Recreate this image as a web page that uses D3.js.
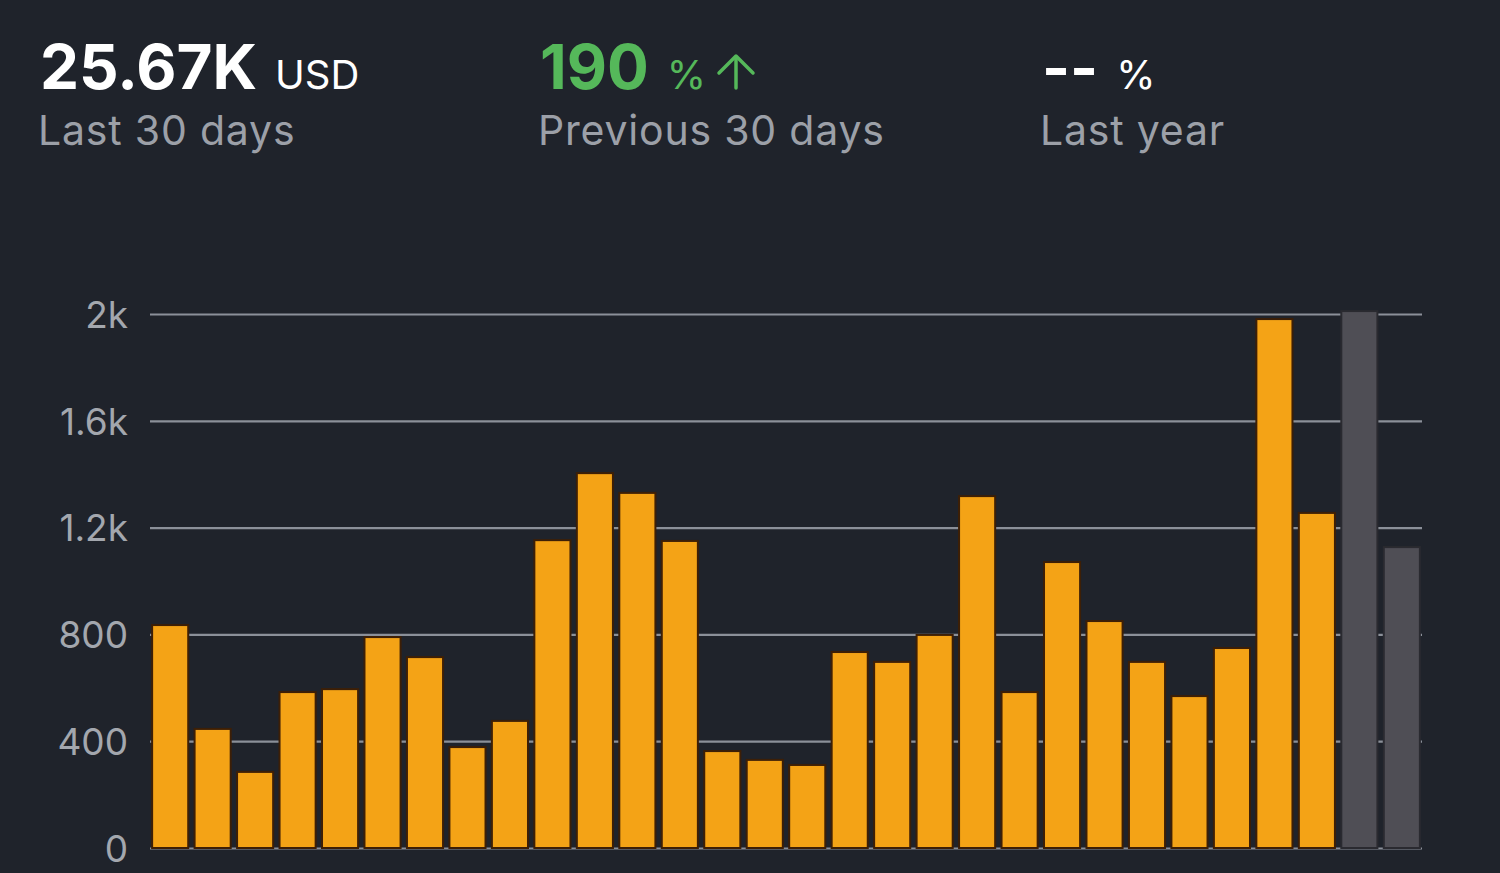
<!DOCTYPE html>
<html>
<head>
<meta charset="utf-8">
<script src="https://cdn.jsdelivr.net/npm/d3@7"></script>
<style>
  html, body { margin: 0; padding: 0; background: #1f232b; }
  svg { display: block; }
  text { font-family: Inter, Roboto, "Noto Sans", sans-serif; }
</style>
</head>
<body>
<svg id="chart" width="1500" height="873"></svg>
<script>
// ---- data ----
const days = d3.range(1, 31).map(d => "D" + d);
const values = [835, 446, 285, 584, 595, 790, 715, 378, 476, 1153,
                1404, 1330, 1150, 363, 330, 311, 734, 697, 798, 1318,
                584, 1071, 850, 697, 569, 749, 1981, 1255, 2011, 1127];
const isForecast = [false, false, false, false, false, false, false, false, false, false,
                    false, false, false, false, false, false, false, false, false, false,
                    false, false, false, false, false, false, false, false, true, true];
const yTicks = [0, 400, 800, 1200, 1600, 2000];
const yTickLabels = ["0", "400", "800", "1.2k", "1.6k", "2k"];

const headline = { value: "25.67K", unit: "USD", label: "Last 30 days" };
const prev = { value: "190", unit: "%", label: "Previous 30 days" };
const lastYear = { value: "--", unit: "%", label: "Last year" };

// ---- drawing ----
const svg = d3.select("#chart");
svg.append("rect").attr("width", 1500).attr("height", 873).attr("fill", "#1f232b");

const x = d3.scaleBand().domain(days).range([150, 1422]).paddingInner(0.15).paddingOuter(0.05);
const y = d3.scaleLinear().domain([0, 2000]).range([848, 314]);

// gridlines
const yAxis = d3.axisLeft(y).tickValues(yTicks)
  .tickFormat((d, i) => yTickLabels[i])
  .tickSize(-(1422 - 150)).tickPadding(22);
const gy = svg.append("g").attr("transform", "translate(150,0)").call(yAxis);
gy.select(".domain").remove();
gy.selectAll(".tick line").attr("stroke", "#8b9099").attr("stroke-width", 2.2);
gy.selectAll(".tick text").attr("fill", "#a3a7ae").attr("font-size", 37)
  .attr("font-family", "Inter, Roboto, sans-serif").attr("dy", "0.36em");

// bars
svg.append("g").selectAll("rect").data(values).join("rect")
  .attr("x", (d, i) => x(days[i]))
  .attr("width", x.bandwidth())
  .attr("y", d => y(d))
  .attr("height", d => y(0) - y(d))
  .attr("fill", (d, i) => isForecast[i] ? "#4f4e55" : "#f4a316")
  .attr("stroke", (d, i) => isForecast[i] ? "#2a2a30" : "#3d1f06")
  .attr("stroke-width", 2);

// header texts
function block(x0, obj, color, unitColor, opts) {
  const t = svg.append("text").attr("x", x0).attr("y", 89);
  t.append("tspan").text(obj.value).attr("font-size", opts.vs).attr("font-weight", 700)
    .attr("fill", color).attr("letter-spacing", opts.ls || 0);
  t.append("tspan").text(obj.unit).attr("dx", opts.gap).attr("font-size", opts.us).attr("font-weight", 400)
    .attr("fill", unitColor).attr("letter-spacing", 0);
  if (opts.arrow) {
    const ax = opts.arrowX, top = 56, bot = 88;
    const g = svg.append("g").attr("stroke", unitColor).attr("stroke-width", 3.5)
      .attr("fill", "none").attr("stroke-linecap", "round").attr("stroke-linejoin", "round");
    g.append("line").attr("x1", ax).attr("x2", ax).attr("y1", top + 2).attr("y2", bot);
    g.append("polyline").attr("points", `${ax - 17},${top + 17} ${ax},${top} ${ax + 17},${top + 17}`);
  }
  svg.append("text").attr("x", x0 - 2).attr("y", 145).text(obj.label)
    .attr("font-size", 41).attr("letter-spacing", 0.8).attr("fill", "#9ca0a8");
}
block(40, headline, "#ffffff", "#ffffff", { vs: 62, us: 40, gap: 18, ls: 0 });
block(540, prev, "#55b85a", "#55b85a", { vs: 62, us: 40, gap: 18, ls: 0, arrow: true, arrowX: 736 });
block(1042, lastYear, "#ffffff", "#ffffff", { vs: 60, us: 40, gap: 18 });
</script>
</body>
</html>
